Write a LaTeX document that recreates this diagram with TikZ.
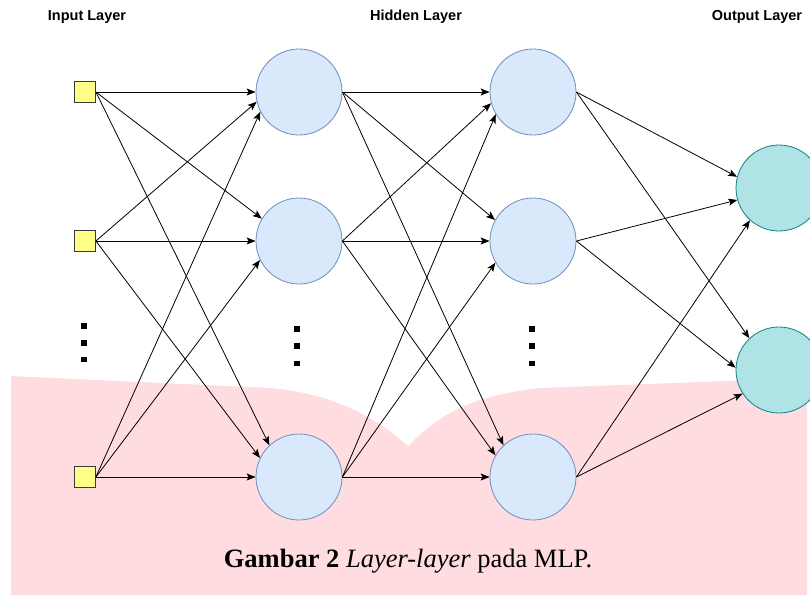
\documentclass[tikz,border=0pt]{standalone}
\usepackage{fontspec}
\setmainfont{Liberation Serif}
\newfontfamily\headfont{Liberation Sans}
\usepackage{xcolor}
\usepackage{tikz}
\usetikzlibrary{arrows.meta,positioning}
\definecolor{inyellow}{HTML}{FFFF88}
\definecolor{inedge}{HTML}{36393D}
\definecolor{hidfill}{HTML}{DAE8FC}
\definecolor{hidedge}{HTML}{6C8EBF}
\definecolor{outfill}{HTML}{B0E3E6}
\definecolor{outedge}{HTML}{0E8088}
\definecolor{pagepink}{HTML}{FFDCE0}
\tikzset{
  inbox/.style={draw=inedge,fill=inyellow,minimum size=21pt,inner sep=0pt,line width=0.8pt},
  hidnode/.style={circle,draw=hidedge,fill=hidfill,minimum size=86pt,inner sep=0pt,line width=0.8pt},
  outnode/.style={hidnode,draw=outedge,fill=outfill},
  dotmark/.style={fill=black,minimum size=5.8pt,inner sep=0pt},
  layerlabel/.style={font=\headfont\bfseries\fontsize{14.5}{16}\selectfont},
  linkarrow/.style={-{Stealth[length=9pt,width=7pt,inset=2pt]},draw=black,line width=0.8pt}
}
\begin{document}
\begin{tikzpicture}[x=1pt,y=-1pt]
  \useasboundingbox (0,0) rectangle (810,595);
  \clip (0,0) rectangle (810,595);
  % page behind the figure
  \fill[pagepink] (11,376) -- (270,388) .. controls (330,393) and (375,416) .. (408,446)
    .. controls (440,414) and (470,396) .. (540,388) -- (807,378) -- (807,595) -- (11,595) -- cycle;
  \node[layerlabel] (inlabel) at (87,17) {Input Layer};
  \node[layerlabel] (hidlabel) at (416,17) {Hidden Layer};
  \node[layerlabel] (outlabel) at (757,17) {Output Layer};
  \node[inbox] (in1) at (85,92) {};
  \node[inbox] (in2) at (85,241) {};
  \node[inbox] (in3) at (85,477) {};
  \node[hidnode] (ha1) at (299,92) {};
  \node[hidnode] (ha2) at (299,241) {};
  \node[hidnode] (ha3) at (299,477) {};
  \node[hidnode] (hb1) at (533,92) {};
  \node[hidnode] (hb2) at (533,241) {};
  \node[hidnode] (hb3) at (533,477) {};
  \node[outnode] (out1) at (779,188) {};
  \node[outnode] (out2) at (779,370) {};
  \node[dotmark] (ind1) at (84,326) {};
  \node[dotmark,below=10.5pt of ind1] (ind2) {};
  \node[dotmark,below=10.5pt of ind2] (ind3) {};
  \node[dotmark] (had1) at (297,329) {};
  \node[dotmark,below=11pt of had1] (had2) {};
  \node[dotmark,below=11pt of had2] (had3) {};
  \node[dotmark] (hbd1) at (532,329) {};
  \node[dotmark,below=11pt of hbd1] (hbd2) {};
  \node[dotmark,below=11pt of hbd2] (hbd3) {};
  \draw[linkarrow] (in1.east)--(ha1.west);
  \draw[linkarrow] (in1.east)--(ha2.149);
  \draw[linkarrow] (in1.east)--(ha3.133);
  \draw[linkarrow] (in2.east)--(ha1.193);
  \draw[linkarrow] (in2.east)--(ha2.west);
  \draw[linkarrow] (in2.east)--(ha3.154);
  \draw[linkarrow] (in3.east)--(ha1.207);
  \draw[linkarrow] (in3.east)--(ha2.206);
  \draw[linkarrow] (in3.east)--(ha3.west);
  \draw[linkarrow] (ha1.east)--(hb1.west);
  \draw[linkarrow] (ha1.east)--(hb2.151);
  \draw[linkarrow] (ha1.east)--(hb3.133);
  \draw[linkarrow] (ha2.east)--(hb1.195);
  \draw[linkarrow] (ha2.east)--(hb2.west);
  \draw[linkarrow] (ha2.east)--(hb3.150);
  \draw[linkarrow] (ha3.east)--(hb1.211);
  \draw[linkarrow] (ha3.east)--(hb2.210);
  \draw[linkarrow] (ha3.east)--(hb3.west);
  \draw[linkarrow] (hb1.east)--(out1.165);
  \draw[linkarrow] (hb1.east)--(out2.133);
  \draw[linkarrow] (hb2.east)--(out1.196);
  \draw[linkarrow] (hb2.east)--(out2.177);
  \draw[linkarrow] (hb3.east)--(out1.228);
  \draw[linkarrow] (hb3.east)--(out2.213);
  \node[font=\fontsize{26.5}{30}\selectfont] (caption) at (408,561) {\textbf{Gambar 2} \textit{Layer-layer} pada MLP.};
\end{tikzpicture}
\end{document}
